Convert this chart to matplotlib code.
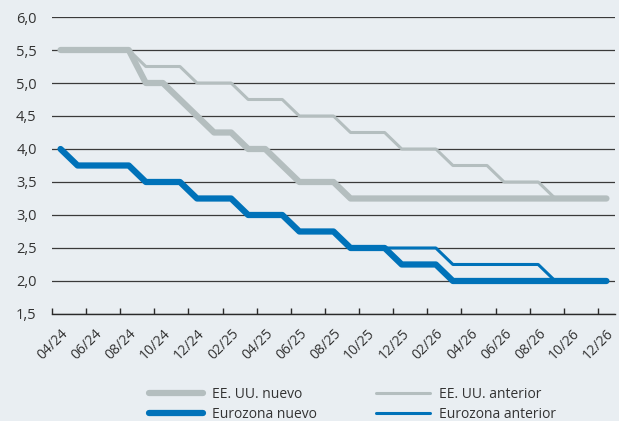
import matplotlib
matplotlib.use('Agg')
import matplotlib.pyplot as plt
import matplotlib.transforms as mtransforms
import numpy as np

plt.rcParams['font.family'] = ['Open Sans', 'DejaVu Sans']

# meses 04/24 .. 12/26
meses = ['04/24', '05/24', '06/24', '07/24', '08/24', '09/24', '10/24', '11/24', '12/24',
         '01/25', '02/25', '03/25', '04/25', '05/25', '06/25', '07/25', '08/25', '09/25',
         '10/25', '11/25', '12/25', '01/26', '02/26', '03/26', '04/26', '05/26', '06/26',
         '07/26', '08/26', '09/26', '10/26', '11/26', '12/26']

ee_uu_nuevo = [5.5, 5.5, 5.5, 5.5, 5.5, 5.0, 5.0, 4.75, 4.5, 4.25, 4.25, 4.0, 4.0, 3.75,
               3.5, 3.5, 3.5, 3.25, 3.25, 3.25, 3.25, 3.25, 3.25, 3.25, 3.25, 3.25, 3.25,
               3.25, 3.25, 3.25, 3.25, 3.25, 3.25]
ee_uu_anterior = [5.5, 5.5, 5.5, 5.5, 5.5, 5.25, 5.25, 5.25, 5.0, 5.0, 5.0, 4.75, 4.75, 4.75,
                  4.5, 4.5, 4.5, 4.25, 4.25, 4.25, 4.0, 4.0, 4.0, 3.75, 3.75, 3.75, 3.5,
                  3.5, 3.5, 3.25, 3.25, 3.25, 3.25]
ez_nuevo = [4.0, 3.75, 3.75, 3.75, 3.75, 3.5, 3.5, 3.5, 3.25, 3.25, 3.25, 3.0, 3.0, 3.0,
            2.75, 2.75, 2.75, 2.5, 2.5, 2.5, 2.25, 2.25, 2.25, 2.0, 2.0, 2.0, 2.0, 2.0,
            2.0, 2.0, 2.0, 2.0, 2.0]
ez_anterior = [4.0, 3.75, 3.75, 3.75, 3.75, 3.5, 3.5, 3.5, 3.25, 3.25, 3.25, 3.0, 3.0, 3.0,
               2.75, 2.75, 2.75, 2.5, 2.5, 2.5, 2.5, 2.5, 2.5, 2.25, 2.25, 2.25, 2.25, 2.25,
               2.25, 2.0, 2.0, 2.0, 2.0]

fondo = '#e9eef2'
gris = '#b4bebf'
azul = '#0072b9'
texto = '#333333'

fig = plt.figure(figsize=(6.19, 4.21), dpi=100, facecolor=fondo)
ax = fig.add_axes([0.084, 0.2542, 0.9095, 0.7054])
ax.set_facecolor(fondo)

x = np.arange(len(meses))
ax.plot(x, ee_uu_anterior, color=gris, lw=2.2, solid_capstyle='butt', label='EE. UU. anterior', zorder=3)
ax.plot(x, ez_anterior, color=azul, lw=2.2, solid_capstyle='butt', label='Eurozona anterior', zorder=3)
ax.plot(x, ee_uu_nuevo, color=gris, lw=4.5, solid_capstyle='round', label='EE. UU. nuevo', zorder=4)
ax.plot(x, ez_nuevo, color=azul, lw=4.5, solid_capstyle='round', label='Eurozona nuevo', zorder=4)

ax.set_xlim(-0.5, len(meses) - 0.5)
ax.set_ylim(1.5, 6.0)
yt = np.arange(1.5, 6.01, 0.5)
ax.set_yticks(yt)
ax.set_yticklabels([f'{v:.1f}'.replace('.', ',') for v in yt])

# etiquetas en el centro de la categoría, marcas entre categorías
ax.set_xticks(x[::2])
ax.set_xticklabels(meses[::2], rotation=45, ha='right', va='top', rotation_mode='anchor')
ax.set_xticks(x[::2] - 0.5, minor=True)
desplaza = mtransforms.ScaledTranslation(4 / 100, -2 / 100, fig.dpi_scale_trans)
for lab in ax.get_xticklabels():
    lab.set_transform(lab.get_transform() + desplaza)

ax.grid(axis='y', color='#3a3a3a', lw=0.9, zorder=1)
for s in ['top', 'right', 'left']:
    ax.spines[s].set_visible(False)
ax.spines['bottom'].set_color('#2a2a2a')
ax.spines['bottom'].set_linewidth(1.0)
ax.tick_params(axis='y', length=0, pad=11, labelsize=10.5, labelcolor=texto)
ax.tick_params(axis='x', which='major', length=0, labelsize=10, labelcolor=texto, pad=9)
ax.tick_params(axis='x', which='minor', direction='in', length=4, width=1, color='#2a2a2a')

h, l = ax.get_legend_handles_labels()
orden = [2, 3, 0, 1]
leg = fig.legend([h[i] for i in orden], [l[i] for i in orden], ncol=2, frameon=False,
                 loc='upper left', bbox_to_anchor=(142 / 619, 1 - 380 / 421), borderpad=0,
                 handlelength=3.9, handletextpad=0.65, columnspacing=4.25, labelspacing=0.35,
                 fontsize=10)
for t in leg.get_texts():
    t.set_color(texto)
for lh in leg.get_lines():
    lh.set_solid_capstyle('round')

fig.savefig('out.png', dpi=100, facecolor=fondo)
